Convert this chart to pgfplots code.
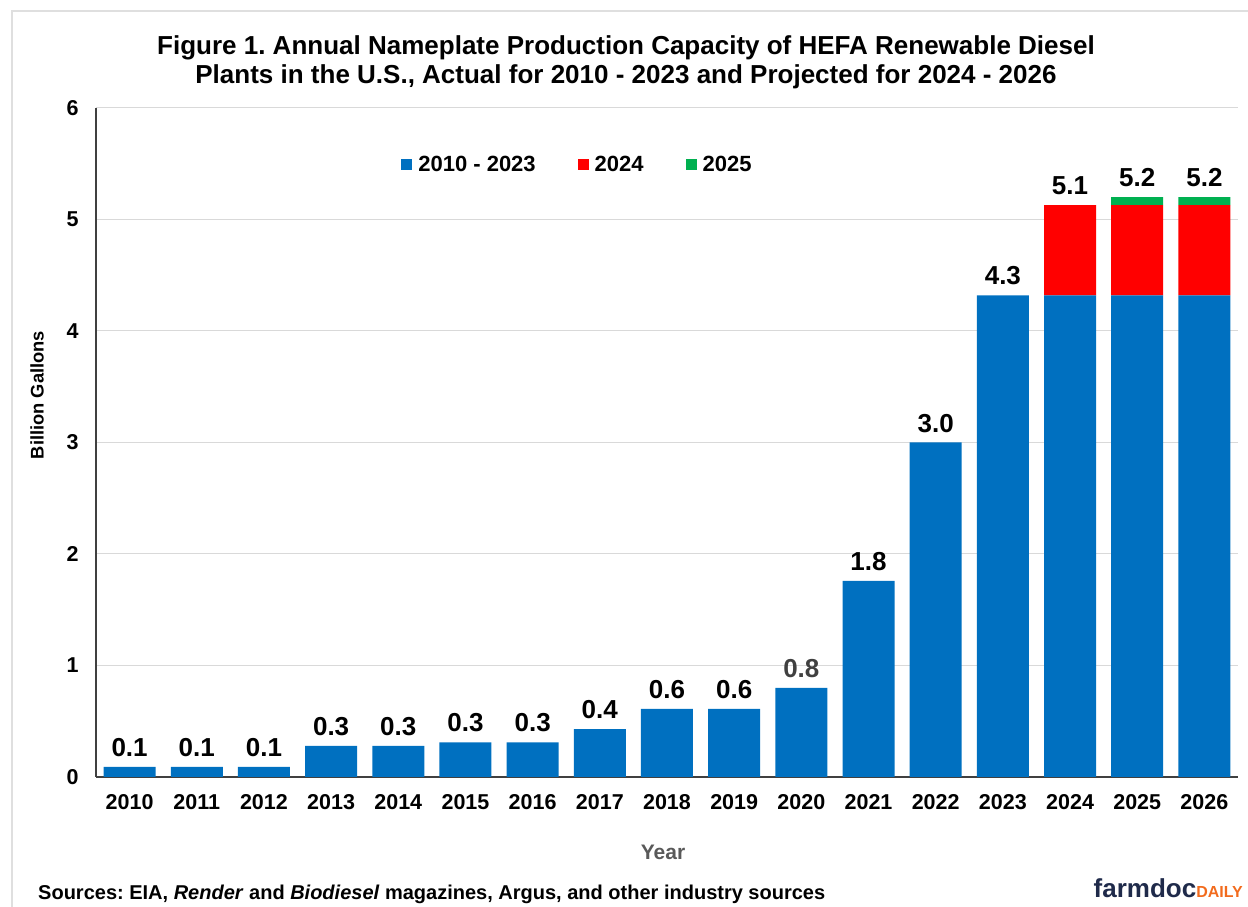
\documentclass[border=0pt]{standalone}
\usepackage{pgfplots}
\pgfplotsset{compat=1.18}
\usepackage{fontspec}
\setmainfont{Liberation Sans}
\frenchspacing
\definecolor{cblue}{HTML}{0070C0}
\definecolor{cred}{HTML}{FF0000}
\definecolor{cgreen}{HTML}{00B050}
\definecolor{gridgray}{HTML}{D9D9D9}
\definecolor{axgray}{HTML}{404040}
\definecolor{yeargray}{HTML}{595959}
\definecolor{labgray}{HTML}{404040}
\definecolor{navy}{HTML}{1F2A4A}
\definecolor{lorange}{HTML}{F26B1D}
\begin{document}
\begin{tikzpicture}[x=1pt,y=1pt]
\path[use as bounding box] (0,0) rectangle (1248,907);
\draw[gray!25, line width=1.5pt] (12,0) -- (12,896) -- (1248,896);
\begin{axis}[
  at={(96pt,130pt)}, anchor=south west,
  scale only axis, width=1142pt, height=669pt,
  xmin=-0.5, xmax=16.5, ymin=0, ymax=6,
  enlargelimits=false,
  ybar stacked, bar width=52pt,
  xtick={0,...,16},
  xticklabels={2010,2011,2012,2013,2014,2015,2016,2017,2018,2019,2020,2021,2022,2023,2024,2025,2026},
  ytick={0,...,6},
  axis x line*=bottom, axis y line*=left,
  axis line style={draw=axgray, line width=1.2pt, -},
  ymajorgrids, grid style={draw=gridgray, line width=1pt},
  major tick length=0pt,
  /pgf/number format/assume math mode=true,
  ticklabel style={font=\bfseries\fontsize{21.5}{24}\selectfont},
  xticklabel style={yshift=-14pt},
  yticklabel style={xshift=-14pt},
  legend style={at={(0.4216,0.916)}, anchor=center, draw=none, fill=none,
    legend columns=3, font=\bfseries\fontsize{22}{24}\selectfont,
    /tikz/every odd column/.append style={column sep=4pt},
    /tikz/every even column/.append style={column sep=40pt}},
  legend image code/.code={\fill[#1] (0pt,-5.5pt) rectangle (11pt,5.5pt);},
]
\addplot[fill=cblue, draw=none] coordinates {(0,0.09) (1,0.09) (2,0.09) (3,0.28) (4,0.28) (5,0.31) (6,0.31) (7,0.43) (8,0.61) (9,0.61) (10,0.80) (11,1.76) (12,3.00) (13,4.32) (14,4.32) (15,4.32) (16,4.32)};
\addplot[fill=cred, draw=none] coordinates {(0,0) (1,0) (2,0) (3,0) (4,0) (5,0) (6,0) (7,0) (8,0) (9,0) (10,0) (11,0) (12,0) (13,0) (14,0.81) (15,0.81) (16,0.81)};
\addplot[fill=cgreen, draw=none] coordinates {(0,0) (1,0) (2,0) (3,0) (4,0) (5,0) (6,0) (7,0) (8,0) (9,0) (10,0) (11,0) (12,0) (13,0) (14,0) (15,0.07) (16,0.07)};
\legend{2010 - 2023, 2024, 2025}
\end{axis}
\begin{axis}[
  at={(96pt,130pt)}, anchor=south west,
  scale only axis, width=1142pt, height=669pt,
  xmin=-0.5, xmax=16.5, ymin=0, ymax=6,
  enlargelimits=false, hide axis, clip=false,
]
\addplot[draw=none, mark=none, nodes near coords, point meta=explicit symbolic,
  nodes near coords style={font=\bfseries\fontsize{26}{28}\selectfont, anchor=south, text=black, inner sep=3pt, yshift=7pt}]
  table[meta=lab] {
x y lab
0 0.09 0.1
1 0.09 0.1
2 0.09 0.1
3 0.28 0.3
4 0.28 0.3
5 0.31 0.3
6 0.31 0.3
7 0.43 0.4
8 0.61 0.6
9 0.61 0.6
11 1.76 1.8
12 3.00 3.0
13 4.32 4.3
14 5.13 5.1
15 5.20 5.2
16 5.20 5.2
};
\addplot[draw=none, mark=none, nodes near coords, point meta=explicit symbolic,
  nodes near coords style={font=\bfseries\fontsize{26}{28}\selectfont, anchor=south, text=labgray, inner sep=3pt, yshift=7pt}]
  table[meta=lab] {
x y lab
10 0.80 0.8
};
\end{axis}
\node[align=center, font=\bfseries\fontsize{26}{29}\selectfont] at (626,845) {Figure 1. Annual Nameplate Production Capacity of HEFA Renewable Diesel\\Plants in the U.S., Actual for 2010 - 2023 and Projected for 2024 - 2026};
\node[rotate=90, font=\bfseries\fontsize{18.3}{20}\selectfont] at (37,512) {Billion Gallons};
\node[text=yeargray, font=\bfseries\fontsize{21}{24}\selectfont] at (663,55) {Year};
\node[anchor=base west, inner sep=0pt, font=\bfseries\fontsize{20}{22}\selectfont] at (38,7) {Sources: EIA, \textit{Render} and \textit{Biodiesel} magazines, Argus, and other industry sources};
\node[anchor=base east, inner sep=0pt] at (1243,9) {\bfseries\fontsize{26}{28}\selectfont\color{navy}farmdoc\fontsize{16}{18}\selectfont\color{lorange}DAILY};
\end{tikzpicture}
\end{document}
